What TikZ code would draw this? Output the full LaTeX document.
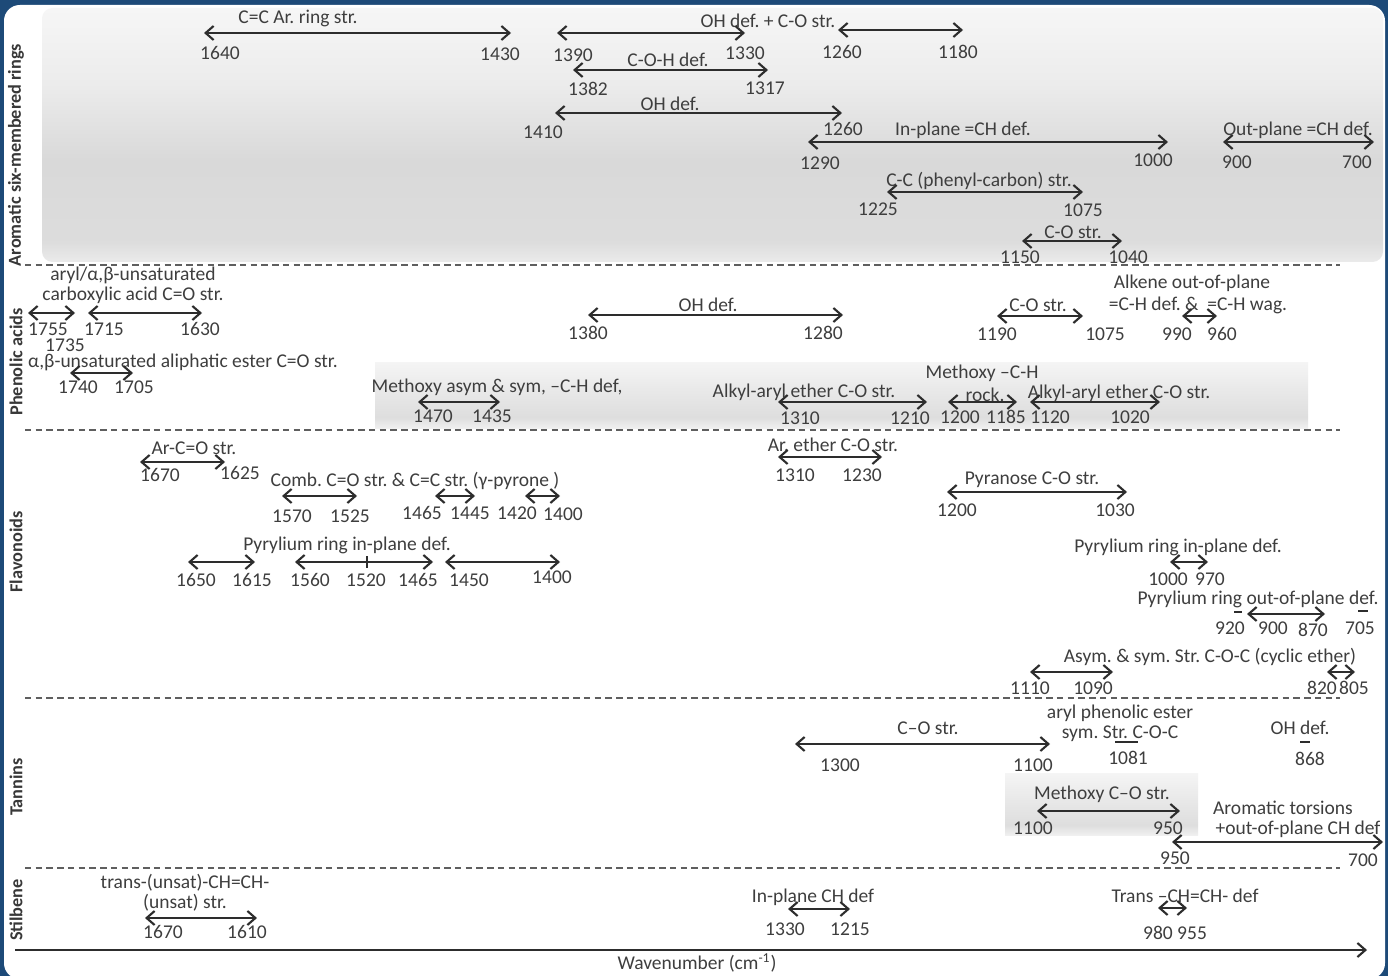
\documentclass[tikz,border=0pt]{standalone}
\usepackage{fontspec}
\setmainfont{Carlito}
\usepackage{tikz}
\usetikzlibrary{arrows.meta}
\frenchspacing

\definecolor{slideblue}{RGB}{29,74,120}
\definecolor{txtgray}{RGB}{62,62,62}
\definecolor{arrgray}{RGB}{45,45,45}
\definecolor{sepgray}{RGB}{95,95,95}

% soft grey bands (vertical, bottom = 25bp, top = 75bp)
\pgfdeclareverticalshading{aroshade}{100bp}{color(0bp)=(gray!16); color(25bp)=(gray!16); color(29bp)=(gray!27); color(45bp)=(gray!30); color(60bp)=(gray!15); color(75bp)=(gray!7); color(100bp)=(gray!7)}
\pgfdeclareverticalshading{boxshade}{100bp}{color(0bp)=(gray!12); color(25bp)=(gray!12); color(33bp)=(gray!26); color(55bp)=(gray!17); color(75bp)=(gray!8); color(100bp)=(gray!8)}

\begin{document}
\begin{tikzpicture}[x=0.02cm, y=-0.02cm,
	band/.style={{Straight Barb[length=1.6mm,width=2.8mm]}-{Straight Barb[length=1.6mm,width=2.8mm]}, line width=1.2pt, draw=arrgray},
	lab/.style={font=\fontsize{11.1}{13}\selectfont, text=txtgray, inner sep=0pt},
	grp/.style={rotate=90, font=\bfseries\fontsize{10.4}{12}\selectfont, text=txtgray!90!black, inner sep=0pt},
	sep/.style={draw=sepgray, line width=1pt, dash pattern=on 1.3mm off 0.85mm},
	bar/.style={draw=arrgray, line width=1pt}]

		\useasboundingbox (0,0) rectangle (1388,976);
		\fill[slideblue] (0,0) rectangle (1388,976);
		\fill[white, rounded corners=9pt] (4,5) rectangle (1385,979);
		
		\shade[shading=aroshade, rounded corners=6pt] (42,8) rectangle (1383,262);
		\shade[shading=boxshade] (375,362) rectangle (1308,428);
		\shade[shading=boxshade] (1005,773) rectangle (1198,835);
		
		% groups
		\node[grp] (g-aro) at (16,155) {Aromatic six-membered rings};
		\node[grp] (g-phe) at (16,362) {Phenolic acids};
		\node[grp] (g-fla) at (16,552) {Flavonoids};
		\node[grp] (g-tan) at (16,787) {Tannins};
		\node[grp] (g-sti) at (16,910) {Stilbene};
		
		\coordinate (s1l) at (25,265);  \coordinate (s1r) at (1340,265);
		\coordinate (s2l) at (25,430);  \coordinate (s2r) at (1340,430);
		\coordinate (s3l) at (25,698);  \coordinate (s3r) at (1340,698);
		\coordinate (s4l) at (25,868);  \coordinate (s4r) at (1340,868);
		\draw[sep] (s1l) -- (s1r);
		\draw[sep] (s2l) -- (s2r);
		\draw[sep] (s3l) -- (s3r);
		\draw[sep] (s4l) -- (s4r);
		
		%aromatic rings
		\node[lab] (ar-t1) at (298,18) {C=C Ar. ring str.};
		\coordinate (ar-a1l) at (204,33); \coordinate (ar-a1r) at (511,33);
		\draw[band] (ar-a1l) -- (ar-a1r);
		\node[lab] (ar1640) at (220,53) {1640};
		\node[lab] (ar1430) at (500,54) {1430};
		
		\node[lab] (ar-t2) at (768,21) {OH def. + C-O str.};
		\coordinate (ar-a2l) at (557,33); \coordinate (ar-a2r) at (745,33);
		\draw[band] (ar-a2l) -- (ar-a2r);
		\coordinate (ar-a3l) at (838,30); \coordinate (ar-a3r) at (963,30);
		\draw[band] (ar-a3l) -- (ar-a3r);
		\node[lab] (ar1390) at (573,55) {1390};
		\node[lab] (ar1330) at (745,53) {1330};
		\node[lab] (ar1260a) at (842,52) {1260};
		\node[lab] (ar1180) at (958,52) {1180};
		
		\node[lab] (ar-t3) at (668,60) {C-O-H def.};
		\coordinate (ar-a4l) at (573,70); \coordinate (ar-a4r) at (768,70);
		\draw[band] (ar-a4l) -- (ar-a4r);
		\node[lab] (ar1382) at (588,89) {1382};
		\node[lab] (ar1317) at (765,88) {1317};
		
		\node[lab] (ar-t4) at (670,104) {OH def.};
		\coordinate (ar-a5l) at (555,113); \coordinate (ar-a5r) at (842,113);
		\draw[band] (ar-a5l) -- (ar-a5r);
		\node[lab] (ar1410) at (543,132) {1410};
		\node[lab] (ar1260b) at (843,129) {1260};
		
		\node[lab] (ar-t5) at (963,130) {In-plane =CH def.};
		\coordinate (ar-a6l) at (808,142); \coordinate (ar-a6r) at (1168,142);
		\draw[band] (ar-a6l) -- (ar-a6r);
		\node[lab] (ar1290) at (820,163) {1290};
		\node[lab] (ar1000) at (1153,160) {1000};
		
		\node[lab] (ar-t6) at (1298,130) {Out-plane =CH def.};
		\coordinate (ar-a7l) at (1223,142); \coordinate (ar-a7r) at (1374,142);
		\draw[band] (ar-a7l) -- (ar-a7r);
		\node[lab] (ar900) at (1237,162) {900};
		\node[lab] (ar700) at (1357,162) {700};
		
		\node[lab] (ar-t7) at (979,181) {C-C (phenyl-carbon) str.};
		\coordinate (ar-a8l) at (887,192); \coordinate (ar-a8r) at (1083,192);
		\draw[band] (ar-a8l) -- (ar-a8r);
		\node[lab] (ar1225) at (878,209) {1225};
		\node[lab] (ar1075) at (1083,210) {1075};
		
		\node[lab] (ar-t8) at (1073,232) {C-O str.};
		\coordinate (ar-a9l) at (1022,241); \coordinate (ar-a9r) at (1122,241);
		\draw[band] (ar-a9l) -- (ar-a9r);
		\node[lab] (ar1150) at (1020,257) {1150};
		\node[lab] (ar1040) at (1128,257) {1040};
		
		%phenolic acids
		\node[lab] (ph-t1) at (133,275) {aryl/α,β-unsaturated};
		\node[lab] (ph-t1b) at (133,295) {carboxylic acid C=O str.};
		\coordinate (ph-a1l) at (28,313); \coordinate (ph-a1r) at (75,313);
		\draw[band] (ph-a1l) -- (ph-a1r);
		\coordinate (ph-a2l) at (88,313); \coordinate (ph-a2r) at (202,313);
		\draw[band] (ph-a2l) -- (ph-a2r);
		\node[lab] (ph1755) at (48,329) {1755};
		\node[lab] (ph1715) at (104,329) {1715};
		\node[lab] (ph1630) at (200,329) {1630};
		\node[lab] (ph1735) at (65,345) {1735};
		
		\node[lab] (ph-t2) at (183,362) {α,β-unsaturated aliphatic ester C=O str.};
		\coordinate (ph-a3l) at (70,373); \coordinate (ph-a3r) at (133,373);
		\draw[band] (ph-a3l) -- (ph-a3r);
		\node[lab] (ph1740) at (78,387) {1740};
		\node[lab] (ph1705) at (134,387) {1705};
		
		\node[lab] (ph-t3) at (708,305) {OH def.};
		\coordinate (ph-a4l) at (588,315); \coordinate (ph-a4r) at (843,315);
		\draw[band] (ph-a4l) -- (ph-a4r);
		\node[lab] (ph1380) at (588,333) {1380};
		\node[lab] (ph1280) at (823,333) {1280};
		
		\node[lab] (ph-t4) at (1038,305) {C-O str.};
		\coordinate (ph-a5l) at (997,316); \coordinate (ph-a5r) at (1083,316);
		\draw[band] (ph-a5l) -- (ph-a5r);
		\node[lab] (ph1190) at (997,334) {1190};
		\node[lab] (ph1075) at (1105,334) {1075};
		
		\node[lab] (ph-t5) at (1192,283) {Alkene out-of-plane};
		\node[lab] (ph-t5b) at (1198,305) {=C-H def. \&\ \ =C-H wag.};
		\coordinate (ph-a6l) at (1182,316); \coordinate (ph-a6r) at (1217,316);
		\draw[band] (ph-a6l) -- (ph-a6r);
		\node[lab] (ph990) at (1177,334) {990};
		\node[lab] (ph960) at (1222,334) {960};
		
		\node[lab] (ph-t6) at (497,387) {Methoxy asym \& sym, –C-H def,};
		\coordinate (ph-a7l) at (418,402); \coordinate (ph-a7r) at (500,402);
		\draw[band] (ph-a7l) -- (ph-a7r);
		\node[lab] (ph1470) at (433,416) {1470};
		\node[lab] (ph1435) at (492,416) {1435};
		
		\node[lab] (ph-t7) at (804,392) {Alkyl-aryl ether C-O str.};
		\coordinate (ph-a8l) at (778,402); \coordinate (ph-a8r) at (927,402);
		\draw[band] (ph-a8l) -- (ph-a8r);
		\node[lab] (ph1310) at (800,418) {1310};
		\node[lab] (ph1210) at (910,418) {1210};
		
		\node[lab] (ph-t8) at (982,373) {Methoxy –C-H};
		\node[lab] (ph-t8b) at (985,395) {rock.};
		\coordinate (ph-a9l) at (948,402); \coordinate (ph-a9r) at (1017,402);
		\draw[band] (ph-a9l) -- (ph-a9r);
		\node[lab] (ph1200) at (960,417) {1200};
		\node[lab] (ph1185) at (1006,417) {1185};
		
		\node[lab] (ph-t9) at (1119,393) {Alkyl-aryl ether C-O str.};
		\coordinate (ph-a10l) at (1030,402); \coordinate (ph-a10r) at (1160,402);
		\draw[band] (ph-a10l) -- (ph-a10r);
		\node[lab] (ph1120) at (1050,417) {1120};
		\node[lab] (ph1020) at (1130,417) {1020};
		
		%flavonoids
		\node[lab] (fl-t1) at (194,448) {Ar-C=O str.};
		\coordinate (fl-a1l) at (140,462); \coordinate (fl-a1r) at (225,462);
		\draw[band] (fl-a1l) -- (fl-a1r);
		\node[lab] (fl1670) at (160,475) {1670};
		\node[lab] (fl1625) at (240,473) {1625};
		
		\node[lab] (fl-t2) at (415,481) {Comb. C=O str. \& C=C str. (γ-pyrone )};
		\coordinate (fl-a2l) at (282,496); \coordinate (fl-a2r) at (357,496);
		\draw[band] (fl-a2l) -- (fl-a2r);
		\coordinate (fl-a3l) at (435,496); \coordinate (fl-a3r) at (475,496);
		\draw[band] (fl-a3l) -- (fl-a3r);
		\coordinate (fl-a4l) at (525,496); \coordinate (fl-a4r) at (560,496);
		\draw[band] (fl-a4l) -- (fl-a4r);
		\node[lab] (fl1570) at (292,516) {1570};
		\node[lab] (fl1525) at (350,516) {1525};
		\node[lab] (fl1465a) at (422,513) {1465};
		\node[lab] (fl1445) at (470,513) {1445};
		\node[lab] (fl1420) at (517,513) {1420};
		\node[lab] (fl1400a) at (563,514) {1400};
		
		\node[lab] (fl-t3) at (347,545) {Pyrylium ring in-plane def.};
		\coordinate (fl-a5l) at (188,562); \coordinate (fl-a5r) at (255,562);
		\draw[band] (fl-a5l) -- (fl-a5r);
		\coordinate (fl-a6l) at (295,562); \coordinate (fl-a6r) at (433,562);
		\draw[band] (fl-a6l) -- (fl-a6r);
		\coordinate (fl-tk1) at (367,556); \coordinate (fl-tk2) at (367,568);
		\draw[bar] (fl-tk1) -- (fl-tk2);
		\coordinate (fl-a7l) at (445,562); \coordinate (fl-a7r) at (560,562);
		\draw[band] (fl-a7l) -- (fl-a7r);
		\node[lab] (fl1650) at (196,580) {1650};
		\node[lab] (fl1615) at (252,580) {1615};
		\node[lab] (fl1560) at (310,580) {1560};
		\node[lab] (fl1520) at (366,580) {1520};
		\node[lab] (fl1465b) at (418,580) {1465};
		\node[lab] (fl1450) at (469,580) {1450};
		\node[lab] (fl1400b) at (552,577) {1400};
		
		\node[lab] (fl-t4) at (833,445) {Ar. ether C-O str.};
		\coordinate (fl-a8l) at (778,457); \coordinate (fl-a8r) at (882,457);
		\draw[band] (fl-a8l) -- (fl-a8r);
		\node[lab] (fl1310) at (795,475) {1310};
		\node[lab] (fl1230) at (862,475) {1230};
		
		\node[lab] (fl-t5) at (1032,480) {Pyranose C-O str.};
		\coordinate (fl-a9l) at (947,492); \coordinate (fl-a9r) at (1127,492);
		\draw[band] (fl-a9l) -- (fl-a9r);
		\node[lab] (fl1200) at (957,510) {1200};
		\node[lab] (fl1030) at (1115,510) {1030};
		
		\node[lab] (fl-t6) at (1178,547) {Pyrylium ring in-plane def.};
		\coordinate (fl-a10l) at (1170,562); \coordinate (fl-a10r) at (1208,562);
		\draw[band] (fl-a10l) -- (fl-a10r);
		\node[lab] (fl1000) at (1168,579) {1000};
		\node[lab] (fl970) at (1210,579) {970};
		
		\node[lab] (fl-t7) at (1258,599) {Pyrylium ring out-of-plane def.};
		\coordinate (fl-a11l) at (1247,614); \coordinate (fl-a11r) at (1325,614);
		\draw[band] (fl-a11l) -- (fl-a11r);
		\coordinate (fl-b1l) at (1234,612); \coordinate (fl-b1r) at (1242,612);
		\draw[bar] (fl-b1l) -- (fl-b1r);
		\coordinate (fl-b2l) at (1358,611); \coordinate (fl-b2r) at (1368,611);
		\draw[bar] (fl-b2l) -- (fl-b2r);
		\node[lab] (fl920) at (1230,628) {920};
		\node[lab] (fl900) at (1273,628) {900};
		\node[lab] (fl870) at (1313,630) {870};
		\node[lab] (fl705) at (1360,628) {705};
		
		\node[lab] (fl-t8) at (1210,657) {Asym. \& sym. Str. C-O-C (cyclic ether)};
		\coordinate (fl-a12l) at (1030,672); \coordinate (fl-a12r) at (1113,672);
		\draw[band] (fl-a12l) -- (fl-a12r);
		\coordinate (fl-a13l) at (1327,672); \coordinate (fl-a13r) at (1355,672);
		\draw[band] (fl-a13l) -- (fl-a13r);
		\node[lab] (fl1110) at (1030,688) {1110};
		\node[lab] (fl1090) at (1093,688) {1090};
		\node[lab] (fl820) at (1322,688) {820};
		\node[lab] (fl805) at (1354,688) {805};
		
		%tannins
		\node[lab] (ta-t1) at (928,728) {C–O str.};
		\coordinate (ta-a1l) at (795,744); \coordinate (ta-a1r) at (1050,744);
		\draw[band] (ta-a1l) -- (ta-a1r);
		\node[lab] (ta1300) at (840,765) {1300};
		\node[lab] (ta1100a) at (1033,765) {1100};
		
		\node[lab] (ta-t2) at (1120,713) {aryl phenolic ester};
		\node[lab] (ta-t2b) at (1120,734) {sym. Str. C-O-C};
		\coordinate (ta-b1l) at (1115,742); \coordinate (ta-b1r) at (1138,742);
		\draw[bar] (ta-b1l) -- (ta-b1r);
		\node[lab] (ta1081) at (1128,758) {1081};
		
		\node[lab] (ta-t3) at (1300,728) {OH def.};
		\coordinate (ta-b2l) at (1300,742); \coordinate (ta-b2r) at (1310,742);
		\draw[bar] (ta-b2l) -- (ta-b2r);
		\node[lab] (ta868) at (1310,759) {868};
		
		\node[lab] (ta-t4) at (1102,794) {Methoxy C–O str.};
		\coordinate (ta-a2l) at (1037,811); \coordinate (ta-a2r) at (1180,811);
		\draw[band] (ta-a2l) -- (ta-a2r);
		\node[lab] (ta1100b) at (1033,828) {1100};
		\node[lab] (ta950a) at (1168,828) {950};
		
		\node[lab] (ta-t5) at (1283,808) {Aromatic torsions};
		\node[lab] (ta-t5b) at (1298,829) {+out-of-plane CH def};
		\coordinate (ta-a3l) at (1172,842); \coordinate (ta-a3r) at (1383,842);
		\draw[band] (ta-a3l) -- (ta-a3r);
		\node[lab] (ta950b) at (1175,858) {950};
		\node[lab] (ta700) at (1363,860) {700};
		
		%stilbene
		\node[lab] (st-t1) at (185,883) {trans-(unsat)-CH=CH-};
		\node[lab] (st-t1b) at (185,903) {(unsat) str.};
		\coordinate (st-a1l) at (145,918); \coordinate (st-a1r) at (257,918);
		\draw[band] (st-a1l) -- (st-a1r);
		\node[lab] (st1670) at (163,932) {1670};
		\node[lab] (st1610) at (247,932) {1610};
		
		\node[lab] (st-t2) at (813,897) {In-plane CH def};
		\coordinate (st-a2l) at (788,909); \coordinate (st-a2r) at (850,909);
		\draw[band] (st-a2l) -- (st-a2r);
		\node[lab] (st1330) at (785,929) {1330};
		\node[lab] (st1215) at (850,929) {1215};
		
		\node[lab] (st-t3) at (1185,896) {Trans –CH=CH- def};
		\coordinate (st-a3l) at (1158,908); \coordinate (st-a3r) at (1187,908);
		\draw[band] (st-a3l) -- (st-a3r);
		\node[lab] (st980) at (1175,933) {980 955};
		
		%axis
		\coordinate (ax-l) at (15,950); \coordinate (ax-r) at (1367,950);
		\draw[arrgray, line width=1.2pt, -{Straight Barb[length=1.6mm,width=2.8mm]}] (ax-l) -- (ax-r);
		\node[lab] (ax-t) at (697,963) {Wavenumber (cm\textsuperscript{-1})};

	\end{tikzpicture}
\end{document}
